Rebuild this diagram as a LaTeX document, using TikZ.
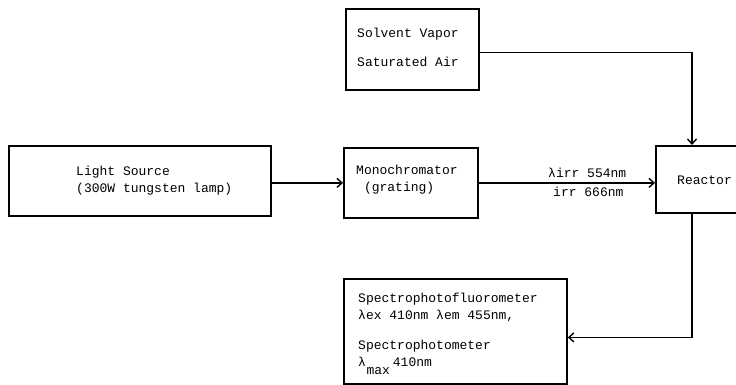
\documentclass[tikz,border=0pt]{standalone}
\usepackage{fontspec}
\setmainfont{Liberation Mono}
\usetikzlibrary{arrows.meta}
\begin{document}
\begin{tikzpicture}[x=1pt,y=-1pt,
  box/.style={draw, line width=1.8pt, inner sep=0pt, anchor=north west},
  txt/.style={font=\fontsize{13}{17}\selectfont, align=left, inner sep=0pt, anchor=west},
  conn/.style={line width=1.7pt, -{Straight Barb[length=5pt,width=9pt,line width=1.4pt]}}]
\useasboundingbox (0,0) rectangle (736,385);
% boxes
\node[box, minimum width=262pt, minimum height=70pt] (light) at (8,145) {};
\node[box, minimum width=134pt, minimum height=70pt] (mono) at (343,147) {};
\node[box, minimum width=133pt, minimum height=81pt] (solv) at (345,8) {};
\node[box, minimum width=110pt, minimum height=67pt] (reactor) at (655,145) {};
\node[box, minimum width=223pt, minimum height=105pt] (spec) at (343,278) {};
% texts
\node[txt] (lighttxt) at (76,181) {Light Source\\(300W tungsten lamp)};
\node[txt] (monotxt) at (356,181) {Monochromator\\\strut~(grating)};
\node[txt] (solvtxt) at (357,47.5) {Solvent Vapor\\[12pt]Saturated Air};
\node[txt] (reactxt) at (677,180) {Reactor};
\node[txt, anchor=north west] (spectxt) at (358,293) {Spectrophotofluorometer\\λex 410nm λem 455nm,\\[13pt]Spectrophotometer\\λ\kern0.5pt\raisebox{-8pt}{max}\kern3pt 410nm};
% connector labels
\node[txt] (lab1) at (548,173) {λirr 554nm};
\node[txt] (lab2) at (553,192) {irr 666nm};
% connector helper points
\coordinate (rtop) at ([xshift=37pt]reactor.north west);
\coordinate (rbot) at ([xshift=37pt]reactor.south west);
\coordinate (specin) at ([yshift=-6pt]spec.east);
% connectors
\draw[conn] (light.east |- mono.west) -- (mono.west);
\draw[conn] (mono.east) -- (mono.east -| reactor.west);
\draw[conn] ([yshift=-3pt]solv.east) -| (rtop);
\draw[conn] (rbot) |- (specin);
\end{tikzpicture}
\end{document}
